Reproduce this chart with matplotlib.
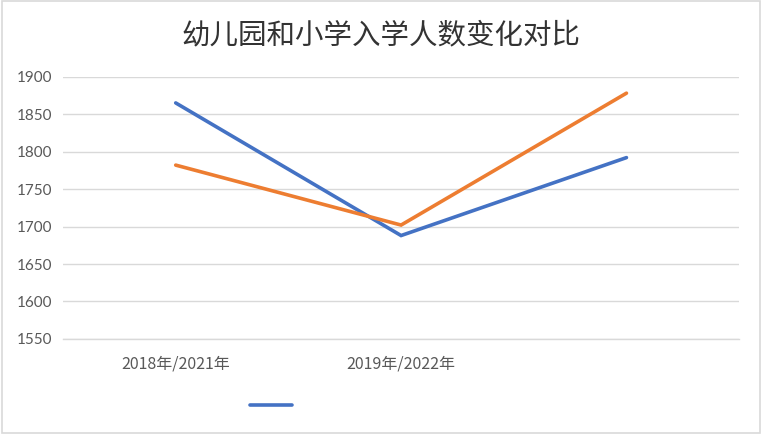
import matplotlib
matplotlib.use("Agg")
import matplotlib.pyplot as plt
from matplotlib.patches import Rectangle
from matplotlib.lines import Line2D

categories = ["2018年/2021年", "2019年/2022年", "2020年/2023年"]
series_names = ["幼儿园入学人数", "小学入学人数"]
kindergarten = [1865, 1688, 1792]
primary = [1782, 1702, 1878]
y_ticks = [1550, 1600, 1650, 1700, 1750, 1800, 1850, 1900]
title = "幼儿园和小学入学人数变化对比"

plt.rcParams['font.family'] = ['Noto Sans CJK SC', 'DejaVu Sans']

fig = plt.figure(figsize=(7.62, 4.34), dpi=100)
fig.patch.set_facecolor("white")
fig.add_artist(Rectangle((0.002, 0.002), 0.996, 0.995, transform=fig.transFigure,
                         fill=False, edgecolor="#d9d9d9", linewidth=1.2))

ax = fig.add_axes([0.0827, 0.219, 0.8873, 0.6043])
x = list(range(len(categories)))
ax.plot(x, kindergarten, color="#4472C4", linewidth=2.6, solid_capstyle="round",
        solid_joinstyle="miter", zorder=3)
ax.plot(x, primary, color="#ED7D31", linewidth=2.6, solid_capstyle="round",
        solid_joinstyle="miter", zorder=3)

ax.set_xlim(-0.5, 2.5)
ax.set_ylim(1550, 1900)
ax.set_yticks(y_ticks)
ax.set_yticklabels([str(v) for v in y_ticks], family=["Lato", "DejaVu Sans"],
                   fontsize=11, color="#595959")
ax.set_xticks(x)
ax.set_xticklabels(categories, fontsize=11.5, color="#595959")
ax.get_xticklabels()[2].set_color("white")
ax.tick_params(axis="both", length=0)
ax.tick_params(axis="y", pad=8)
ax.tick_params(axis="x", pad=12)
ax.grid(axis="y", color="#d9d9d9", linewidth=1)
ax.set_axisbelow(True)
for s in ["top", "right", "left"]:
    ax.spines[s].set_visible(False)
ax.spines["bottom"].set_color("#d9d9d9")
ax.spines["bottom"].set_linewidth(1)

fig.text(0.5, 0.918, title, ha="center", va="center", fontsize=20.5, color="#333333")

handles = [Line2D([], [], color="#4472C4", linewidth=2.6, solid_capstyle="round"),
           Line2D([], [], color="white", linewidth=2.6)]
leg = fig.legend(handles, series_names, loc="center left",
                 bbox_to_anchor=(0.328, 0.064), ncol=2, frameon=False,
                 fontsize=10.5, handlelength=2.9, borderpad=0, borderaxespad=0,
                 columnspacing=1.5)
for t in leg.get_texts():
    t.set_color("white")

fig.savefig("out.png", dpi=100, facecolor="white")
